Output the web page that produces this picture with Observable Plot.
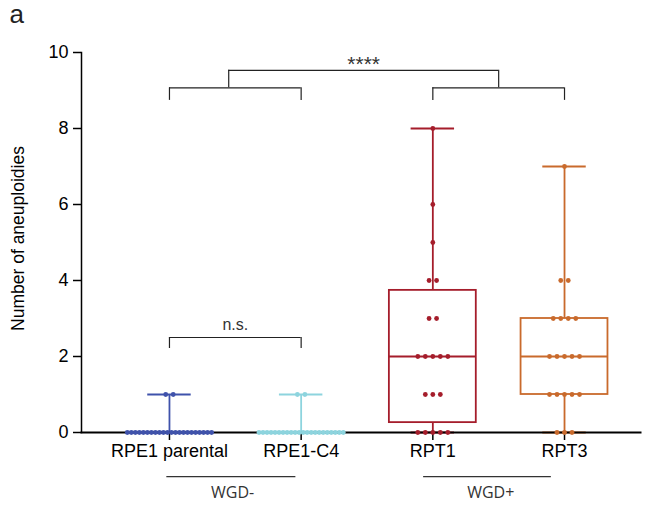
<!DOCTYPE html>
<html>
<head>
<meta charset="utf-8">
<script src="https://cdn.jsdelivr.net/npm/d3@7"></script>
<script src="https://cdn.jsdelivr.net/npm/@observablehq/plot@0.6"></script>
<style>
  html, body { margin: 0; padding: 0; background: white; }
</style>
</head>
<body>
<div id="chart"></div>
<script>
// ---- data ----
const categories = ["RPE1 parental", "RPE1-C4", "RPT1", "RPT3"];
const positions = [1, 2, 3, 4];
const colors = ["#3f52ab", "#8dd4de", "#a51d2b", "#c96a2c"];

const parentalValues = [0,0,0,0,0,0,0,0,0,0,0,0,0,0,0,0,0,0,0,0,0,0,1,1];
const c4Values       = [0,0,0,0,0,0,0,0,0,0,0,0,0,0,0,0,0,0,0,0,0,0,1,1];
const rpt1Values     = [0,0,0,0,0,1,1,1,2,2,2,2,2,3,3,4,4,5,6,8];
const rpt3Values     = [0,0,0,1,1,1,1,1,2,2,2,2,2,3,3,3,3,4,4,7];

const boxQ1     = [0, 0, 0.26, 1];
const boxMedian = [0, 0, 2, 2];
const boxQ3     = [0, 0, 3.74, 3];
const whiskLo   = [0, 0, 0, 0];
const whiskHi   = [1, 1, 8, 7];

const yTicks = [0, 2, 4, 6, 8, 10];

// significance brackets
const bracketLabels = ["****", "n.s."];
const groupLabels = ["WGD-", "WGD+"];
const groupX1 = [0.98, 2.93];
const groupX2 = [1.96, 3.90];
const groupLabelX = [1.48, 3.44];

// ---- build tables ----
const allValues = [parentalValues, c4Values, rpt1Values, rpt3Values];
const points = [];
allValues.forEach((vals, gi) => {
  const byVal = d3.group(vals, v => v);
  for (const [v, arr] of byVal) {
    const n = arr.length;
    const sp = n > 1 ? Math.min(0.057, 0.64 / (n - 1)) : 0;
    arr.forEach((_, i) => points.push({cat: categories[gi], x: positions[gi] + (i - (n - 1) / 2) * sp, y: v}));
  }
});
const boxes = categories.map((c, i) => ({
  cat: c, pos: positions[i], q1: boxQ1[i], med: boxMedian[i], q3: boxQ3[i], lo: whiskLo[i], hi: whiskHi[i]
}));
const BW = 0.33, CW = 0.165;

// bracket segments (data units)
const topBr = {x1: 1.45, x2: 3.5, y: 9.53, yd: 9.07};
const lowL = {x1: positions[0], x2: positions[1], y: 9.07, yd: 8.74};
const lowR = {x1: positions[2], x2: positions[3], y: 9.07, yd: 8.74};
const nsBr = {x1: positions[0], x2: positions[1], y: 2.5, yd: 2.21};
const hSegs = [topBr, lowL, lowR, nsBr];
const vSegs = [];
hSegs.forEach(s => { vSegs.push({x: s.x1, y1: s.y, y2: s.yd}); vSegs.push({x: s.x2, y1: s.y, y2: s.yd}); });
const annot = [
  {x: (topBr.x1 + topBr.x2) / 2, y: 9.68, t: bracketLabels[0], fs: 21},
  {x: (nsBr.x1 + nsBr.x2) / 2, y: 2.83, t: bracketLabels[1], fs: 16}
];
const groups = groupLabels.map((g, i) => ({t: g, x1: groupX1[i], x2: groupX2[i], xm: groupLabelX[i]}));

const chart = Plot.plot({
  width: 653,
  height: 506,
  marginLeft: 81,
  marginRight: 13,
  marginTop: 52,
  marginBottom: 74,
  style: {fontFamily: "'Liberation Sans', Arial, sans-serif", fontSize: "18px", background: "white", color: "black", overflow: "visible"},
  x: {domain: [0.332, 4.577], axis: null},
  y: {domain: [0, 10], axis: null},
  color: {domain: categories, range: colors},
  marks: [
    // axes
    Plot.axisY({ticks: yTicks, tickSize: 8, tickPadding: 5, fontSize: 18, strokeWidth: 1.5, label: null}),
    Plot.text(["Number of aneuploidies"], {frameAnchor: "left", dx: -70, rotate: -90, fontSize: 17.5, lineAnchor: "top", textAnchor: "middle", dy: -4}),
    Plot.axisX({ticks: positions, tickFormat: (d, i) => categories[i], tickSize: 8, tickPadding: 4, fontSize: 18, strokeWidth: 1.5, label: null}),
    Plot.frame({anchor: "left", stroke: "black", strokeWidth: 1.5}),
    // whiskers
    Plot.ruleX(boxes, {x: "pos", y1: "lo", y2: "hi", stroke: "cat", strokeWidth: 1.8}),
    Plot.ruleY(boxes, {y: "hi", x1: d => d.pos - CW, x2: d => d.pos + CW, stroke: "cat", strokeWidth: 1.8}),
    Plot.ruleY(boxes, {y: "lo", x1: d => d.pos - CW, x2: d => d.pos + CW, stroke: "cat", strokeWidth: 1.8}),
    // boxes
    Plot.rect(boxes, {x1: d => d.pos - BW, x2: d => d.pos + BW, y1: "q1", y2: "q3", fill: "white", stroke: "cat", strokeWidth: 1.8}),
    Plot.ruleY(boxes, {y: "med", x1: d => d.pos - BW, x2: d => d.pos + BW, stroke: "cat", strokeWidth: 1.8}),
    Plot.frame({anchor: "bottom", stroke: "black", strokeWidth: 2}),
    // dots
    Plot.dot(points, {x: "x", y: "y", r: 2.4, fill: "cat", stroke: null}),
    // brackets
    Plot.ruleY(hSegs, {y: "y", x1: "x1", x2: "x2", stroke: "#222", strokeWidth: 1.2}),
    Plot.ruleX(vSegs, {x: "x", y1: "y1", y2: "y2", stroke: "#222", strokeWidth: 1.2}),
    Plot.text(annot, {x: "x", y: "y", text: "t", fontSize: d => d.fs, fill: "#333"}),
    // group annotation below axis
    Plot.ruleY(groups, {y: -1.16, x1: "x1", x2: "x2", stroke: "#333", strokeWidth: 1.2}),
    Plot.text(groups, {x: "xm", y: -1.58, text: "t", fontSize: 16, fill: "#333", fontFamily: "'Open Sans', sans-serif"}),
    // panel letter
    Plot.text(["a"], {frameAnchor: "top-left", dx: -72, dy: -48, fontSize: 26, fill: "#222"})
  ]
});
document.getElementById("chart").appendChild(chart);
</script>
</body>
</html>
